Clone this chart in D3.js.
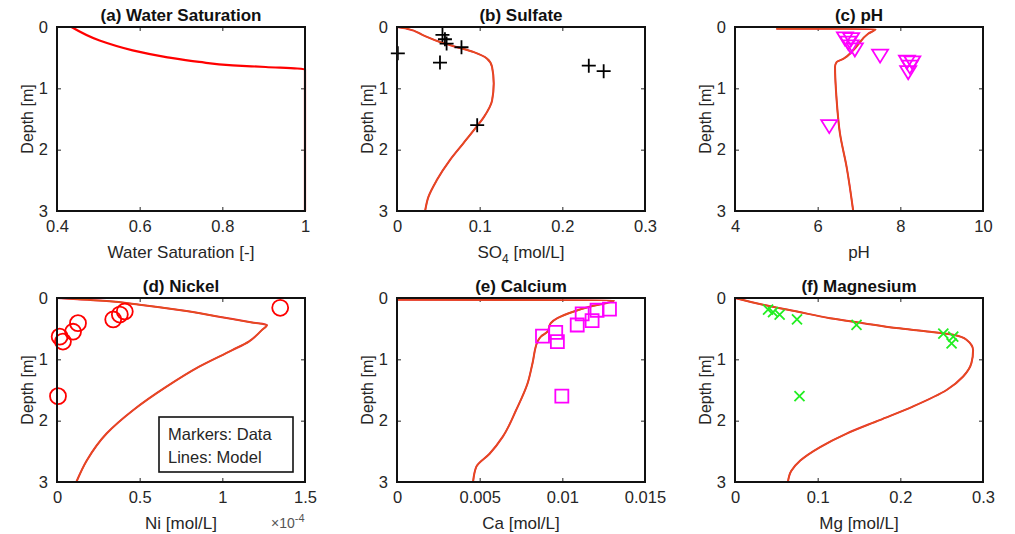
<!DOCTYPE html>
<html>
<head>
<meta charset="utf-8">
<style>
  body { margin: 0; background: #fff; }
  svg { font-family: "Liberation Sans", Arial, sans-serif; }
  .tick text { fill: #262626; font-size: 16.5px; }
</style>
</head>
<body>
<svg width="1015" height="534"></svg>
<script src="https://d3js.org/d3.v7.min.js"></script>
<script>
// ---- data (depth in m) ----
let satDepth = [0, 0.22, 0.38, 0.49, 0.57, 0.625, 0.652, 0.69, 1.5, 3]
let satModel = [0.435, 0.503, 0.583, 0.664, 0.744, 0.825, 0.905, 1.0, 1.0, 1.0]

let so4Depth = [0, 0.027, 0.136, 0.245, 0.326, 0.41, 0.516, 0.65, 0.92, 1.2, 1.47, 1.68, 1.9, 2.17, 2.5, 2.77, 3]
let so4Model = [0, 0.012, 0.032, 0.052, 0.072, 0.093, 0.109, 0.115, 0.117, 0.115, 0.105, 0.093, 0.08, 0.064, 0.048, 0.038, 0.034]
let so4DataDepth = [0.13, 0.2, 0.27, 0.33, 0.43, 0.58, 0.63, 0.72, 1.6]
let so4Data = [0.055, 0.058, 0.06, 0.078, 0.001, 0.052, 0.232, 0.25, 0.097]

let phDepth = [0.028, 0.032, 0.11, 0.38, 0.52, 0.57, 0.65, 1.2, 1.74, 2.28, 3]
let phModel = [5.0, 7.4, 7.22, 6.86, 6.62, 6.46, 6.42, 6.46, 6.54, 6.7, 6.86]
let phDataDepth = [0.17, 0.18, 0.24, 0.3, 0.35, 0.45, 0.55, 0.56, 0.63, 0.72, 1.6]
let phData = [6.66, 6.81, 6.74, 6.8, 6.9, 7.51, 8.16, 8.29, 8.23, 8.19, 6.28]

let niDepth = [0, 0.05, 0.11, 0.2, 0.3, 0.4, 0.44, 0.52, 0.71, 0.85, 1.12, 1.45, 1.83, 2.21, 2.65, 3]
let niModel = [0, 0.3, 0.5, 0.75, 0.97, 1.18, 1.27, 1.24, 1.16, 1.06, 0.86, 0.66, 0.46, 0.30, 0.18, 0.117]
let niDataDepth = [0.16, 0.22, 0.27, 0.35, 0.41, 0.55, 0.63, 0.71, 1.6]
let niData = [1.35, 0.41, 0.38, 0.34, 0.127, 0.097, 0.016, 0.036, 0.006]

let caDepth = [0.03, 0.034, 0.05, 0.08, 0.14, 0.22, 0.33, 0.41, 0.55, 0.63, 0.71, 1.06, 1.39, 1.83, 2.26, 2.54, 2.75, 3]
let caModel = [0, 0.0131, 0.0131, 0.0127, 0.0117, 0.0107, 0.0097, 0.0093, 0.0091, 0.0087, 0.0085, 0.0082, 0.0079, 0.0072, 0.0064, 0.0056, 0.0048, 0.0046]
let caDataDepth = [0.18, 0.2, 0.26, 0.37, 0.44, 0.62, 0.56, 0.71, 1.6]
let caData = [0.01285, 0.0121, 0.0112, 0.0118, 0.0109, 0.0088, 0.0096, 0.0097, 0.00997]

let mgDepth = [0, 0.11, 0.22, 0.33, 0.41, 0.49, 0.55, 0.6, 0.68, 0.85, 1.06, 1.28, 1.5, 1.77, 1.99, 2.21, 2.43, 2.65, 2.82, 3]
let mgModel = [0, 0.034, 0.075, 0.115, 0.155, 0.195, 0.236, 0.264, 0.28, 0.288, 0.286, 0.276, 0.256, 0.215, 0.175, 0.135, 0.103, 0.079, 0.068, 0.064]
let mgDataDepth = [0.19, 0.23, 0.27, 0.35, 0.44, 0.58, 0.63, 0.74, 1.6]
let mgData = [0.04, 0.046, 0.054, 0.075, 0.147, 0.252, 0.264, 0.262, 0.078]

let depthTicks = [0, 1, 2, 3]

let svg = d3.select("svg")
let pw = 248, ph = 184
let txt = "#262626"

function panel(o) {
  let g = svg.append("g").attr("transform", `translate(${o.x},${o.y})`)
  let x = d3.scaleLinear().domain(o.xdom).range([0, pw])
  let y = d3.scaleLinear().domain([0, 3]).range([0, ph])

  // axes
  g.append("g").attr("transform", `translate(0,${ph})`)
    .call(d3.axisBottom(x).tickValues(o.xticks).tickSizeInner(-4).tickSizeOuter(0).tickPadding(9).tickFormat(o.fmt))
  g.append("g")
    .call(d3.axisLeft(y).tickValues(depthTicks).tickSizeInner(-4).tickSizeOuter(0).tickPadding(9).tickFormat(d3.format("d")))
  g.append("g").call(d3.axisTop(x).tickValues(o.xticks).tickSizeInner(-4).tickSizeOuter(0).tickFormat(""))
  g.append("g").attr("transform", `translate(${pw},0)`)
    .call(d3.axisRight(y).tickValues(depthTicks).tickSizeInner(-4).tickSizeOuter(0).tickFormat(""))
  g.selectAll(".domain").remove()
  g.selectAll(".tick line").attr("stroke", txt).attr("stroke-width", 1)

  // clip + lines
  let clipId = "clip" + o.id
  g.append("clipPath").attr("id", clipId).append("rect")
    .attr("x", -2).attr("y", -2).attr("width", pw + 4).attr("height", ph + 4)
  let plot = g.append("g").attr("clip-path", `url(#${clipId})`)

  let lf = d3.line().x(d => x(d[0])).y(d => y(d[1])).curve(d3.curveMonotoneY)
  let pts = o.model.map((v, i) => [v, o.depth[i]])
  if (o.id == "a") {
    plot.append("path").datum(pts).attr("d", lf)
      .attr("fill", "none").attr("stroke", "#ff0000").attr("stroke-width", 2.2)
  } else {
    plot.append("path").datum(pts).attr("d", lf)
      .attr("fill", "none").attr("stroke", "#ee1c3c").attr("stroke-width", 2)
    plot.append("path").datum(pts).attr("d", lf)
      .attr("fill", "none").attr("stroke", "#e2521b").attr("stroke-width", 1.4)
  }

  // data markers
  if (o.data) {
    g.append("g").selectAll("path")
      .data(o.data.map((v, i) => [v, o.dataDepth[i]]))
      .join("path")
      .attr("transform", d => `translate(${x(d[0])},${y(d[1])})`)
      .attr("d", o.marker)
      .attr("fill", "none").attr("stroke", o.mcolor).attr("stroke-width", 1.8)
  }

  // box
  g.append("rect").attr("width", pw).attr("height", ph)
    .attr("fill", "none").attr("stroke", "#111").attr("stroke-width", 2)

  // titles
  g.append("text").attr("x", pw / 2).attr("y", -6).attr("text-anchor", "middle")
    .attr("font-size", 17).attr("font-weight", "bold").attr("fill", "#111").text(o.title)
  let xl = g.append("text").attr("x", pw / 2).attr("y", ph + 47).attr("text-anchor", "middle")
    .attr("font-size", 17).attr("fill", txt)
  o.xlabel(xl)
  g.append("text").attr("transform", `translate(-24,${ph / 2}) rotate(-90)`)
    .attr("text-anchor", "middle").attr("font-size", 16).attr("fill", txt).text("Depth [m]")
  return g
}

let plus = "M-7,0H7M0,-7V7"
let tri = "M-8,-5H8L0,8Z"
let circ = d3.symbol().type(d3.symbolCircle).size(200)()
let sq = "M-6.5,-6.5H6.5V6.5H-6.5Z"
let cross = "M-5,-5L5,5M-5,5L5,-5"

let colX = [57, 397, 735], rowY = [27, 298]

panel({ id: "a", x: colX[0], y: rowY[0], xdom: [0.4, 1], xticks: [0.4, 0.6, 0.8, 1], fmt: d3.format(""),
  depth: satDepth, model: satModel, title: "(a) Water Saturation",
  xlabel: t => t.text("Water Saturation [-]") })

panel({ id: "b", x: colX[1], y: rowY[0], xdom: [0, 0.3], xticks: [0, 0.1, 0.2, 0.3], fmt: d3.format(""),
  depth: so4Depth, model: so4Model, data: so4Data, dataDepth: so4DataDepth, marker: plus, mcolor: "#000",
  title: "(b) Sulfate",
  xlabel: t => { t.append("tspan").text("SO"); t.append("tspan").attr("dy", 5).attr("font-size", 12).text("4");
                 t.append("tspan").attr("dy", -5).text(" [mol/L]") } })

panel({ id: "c", x: colX[2], y: rowY[0], xdom: [4, 10], xticks: [4, 6, 8, 10], fmt: d3.format("d"),
  depth: phDepth, model: phModel, data: phData, dataDepth: phDataDepth, marker: tri, mcolor: "#ff00ff",
  title: "(c) pH", xlabel: t => t.text("pH") })

let gd = panel({ id: "d", x: colX[0], y: rowY[1], xdom: [0, 1.5], xticks: [0, 0.5, 1, 1.5], fmt: d3.format(""),
  depth: niDepth, model: niModel, data: niData, dataDepth: niDataDepth, marker: circ, mcolor: "#ff0000",
  title: "(d) Nickel", xlabel: t => t.text("Ni [mol/L]") })
// exponent label
let ex = gd.append("text").attr("x", pw - 34).attr("y", ph + 46).attr("font-size", 14).attr("fill", "#555")
ex.append("tspan").text("\u00d710")
ex.append("tspan").attr("dy", -6).attr("font-size", 11).text("-4")
// legend box
gd.append("rect").attr("x", 102).attr("y", 119).attr("width", 134).attr("height", 55)
  .attr("fill", "#fff").attr("stroke", "#111").attr("stroke-width", 1.6)
gd.append("text").attr("x", 111).attr("y", 142).attr("font-size", 16.5).attr("fill", txt).text("Markers: Data")
gd.append("text").attr("x", 111).attr("y", 165).attr("font-size", 16.5).attr("fill", txt).text("Lines: Model")

panel({ id: "e", x: colX[1], y: rowY[1], xdom: [0, 0.015], xticks: [0, 0.005, 0.01, 0.015], fmt: d3.format(""),
  depth: caDepth, model: caModel, data: caData, dataDepth: caDataDepth, marker: sq, mcolor: "#ff00ff",
  title: "(e) Calcium", xlabel: t => t.text("Ca [mol/L]") })

panel({ id: "f", x: colX[2], y: rowY[1], xdom: [0, 0.3], xticks: [0, 0.1, 0.2, 0.3], fmt: d3.format(""),
  depth: mgDepth, model: mgModel, data: mgData, dataDepth: mgDataDepth, marker: cross, mcolor: "#22ee22",
  title: "(f) Magnesium", xlabel: t => t.text("Mg [mol/L]") })
</script>
</body>
</html>
